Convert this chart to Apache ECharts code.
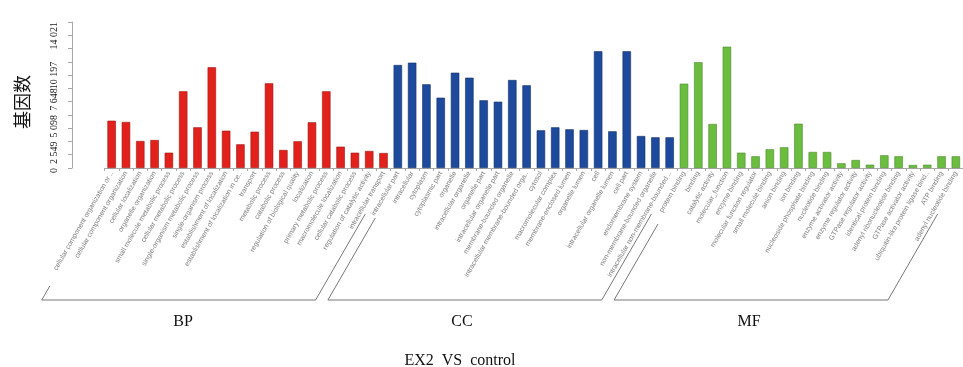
<!DOCTYPE html>
<html>
<head>
<meta charset="utf-8">
<script src="https://cdn.jsdelivr.net/npm/echarts@6/dist/echarts.min.js"></script>
<style>html,body{margin:0;padding:0;background:#fff;}#c{width:963px;height:367px;}</style>
</head>
<body>
<div id="c"></div>
<script>
// ---- data ----
var bpTerms = ["cellular component organization or ..","cellular component organization","cellular localization","organelle organization","small molecule metabolic process","cellular metabolic process","single-organism metabolic process","single-organism process","establishment of localization","establishment of localization in ce..","transport","metabolic process","catabolic process","regulation of biological quality","localization","primary metabolic process","macromolecule localization","cellular catabolic process","regulation of catalytic activity","intracellular transport"];
var bpValues = [4542,4418,2593,2689,1469,7366,3909,9671,3582,2276,3486,8134,1729,2564,4389,7366,2046,1469,1633,1440];
var ccTerms = ["intracellular part","intracellular","cytoplasm","cytoplasmic part","organelle","intracellular organelle","organelle part","intracellular organelle part","membrane-bounded organelle","intracellular membrane-bounded orga..","cytosol","macromolecular complex","membrane-enclosed lumen","organelle lumen","cell","intracellular organelle lumen","cell part","endomembrane system","non-membrane-bounded organelle","intracellular non-membrane-bounded .."];
var ccValues = [9891,10112,8038,6751,9152,8672,6501,6367,8451,7942,3620,3909,3717,3649,11207,3524,11207,3073,2948,2948];
var mfTerms = ["protein binding","binding","catalytic activity","molecular_function","enzyme binding","molecular function regulator","small molecule binding","anion binding","ion binding","nucleoside phosphate binding","nucleotide binding","enzyme activator activity","enzyme regulator activity","GTPase regulator activity","identical protein binding","adenyl ribonucleotide binding","GTPase activator activity","ubiquitin-like protein ligase bind..","ATP binding","adenyl nucleotide binding"];
var mfValues = [8096,10151,4225,11649,1469,1124,1796,1988,4254,1537,1537,451,768,317,1220,1124,288,317,1124,1124];
var groupNames = ["BP","CC","MF"];
var yMax = 14021;
var yTickLabels = ["0","2 549","5 098","7 648","10 197","14 021"];
var yTickSteps = [0,2,4,6,8,11];   // which of the 11 equal steps carry a label
var yAxisTitle = "基因数";
var chartTitle = "EX2  VS  control";

// ---- build ----
var categories = bpTerms.concat(ccTerms, mfTerms);
var nB = bpTerms.length, nC = ccTerms.length, nM = mfTerms.length;
function pad(arr, before, after){
  var out = [];
  for (var i=0;i<before;i++) out.push('-');
  out = out.concat(arr);
  for (var j=0;j<after;j++) out.push('-');
  return out;
}
var interval = yMax / 11;
var colors = ['#E2211C', '#1D4A9C', '#6BBD3F'];
var borders = ['#9a1512', '#123066', '#4a8a2a'];
function mkSeries(name, vals, before, after, k){
  return {
    name: name, type: 'bar', stack: 'all',
    data: pad(vals, before, after),
    barWidth: '59%',
    itemStyle: { color: colors[k], borderColor: borders[k], borderWidth: 0.6 },
    animation: false
  };
}

var chart = echarts.init(document.getElementById('c'), null, {renderer: 'canvas'});
var option = {
  animation: false,
  grid: { left: 104.5, right: -8.5, top: 22, bottom: 199, containLabel: false },
  xAxis: {
    type: 'category', data: categories,
    axisLine: { lineStyle: { color: '#a8a8a8', width: 1 } },
    axisTick: { show: true, length: 3, lineStyle: { color: '#a8a8a8' } },
    axisLabel: { interval: 0, rotate: 60, fontSize: 7, color: '#808080', fontFamily: 'Liberation Sans, Arial, sans-serif', margin: 4 }
  },
  yAxis: {
    type: 'value', min: 0, max: yMax, interval: interval, offset: 32.5,
    axisLine: { show: true, lineStyle: { color: '#a8a8a8' } },
    axisTick: { show: true, length: 4, lineStyle: { color: '#a8a8a8' } },
    splitLine: { show: false },
    axisLabel: {
      rotate: 90, align: 'right', verticalAlign: 'middle', margin: 18,
      fontSize: 10, color: '#222', fontFamily: 'Liberation Serif, serif',
      formatter: function(v){
        var s = Math.round(v / interval);
        var idx = yTickSteps.indexOf(s);
        return idx >= 0 ? yTickLabels[idx] : '';
      }
    }
  },
  series: [
    mkSeries('BP', bpValues, 0, nC + nM, 0),
    mkSeries('CC', ccValues, nB, nM, 1),
    mkSeries('MF', mfValues, nB + nC, 0, 2)
  ]
};
chart.setOption(option);

// ---- decorations: group brackets, labels, titles ----
var k = 1 / Math.tan(60 * Math.PI / 180);
var y0 = chart.convertToPixel({yAxisIndex: 0}, 0) + 4;
var yBottom = 300;
var leftTops = [286, 218, 224];
var rightTop = 214;
var groupRanges = [[0, nB - 1], [nB, nB + nC - 1], [nB + nC, nB + nC + nM - 1]];
var groupLabelX = [183, 462, 749];
var elements = [];
groupRanges.forEach(function(r, g){
  var xa = chart.convertToPixel({xAxisIndex: 0}, r[0]) + 4;
  var xb = chart.convertToPixel({xAxisIndex: 0}, r[1]) + 6;
  var lt = leftTops[g];
  var pts = [
    [xa - (lt - y0) * k, lt],
    [xa - (yBottom - y0) * k, yBottom],
    [xb - (yBottom - y0) * k, yBottom],
    [xb - (rightTop - y0) * k, rightTop]
  ];
  elements.push({ type: 'polyline', shape: { points: pts }, style: { stroke: '#777', lineWidth: 1, fill: null }, silent: true });
  elements.push({ type: 'text', x: groupLabelX[g], y: 322, style: { text: groupNames[g], font: '16px "Liberation Serif", serif', fill: '#111', textAlign: 'center', textVerticalAlign: 'middle' } });
});
elements.push({ type: 'text', x: 460, y: 353, style: { text: chartTitle, font: '16px "Liberation Serif", serif', fill: '#111', textAlign: 'center', textVerticalAlign: 'top' } });
elements.push({ type: 'text', x: 22, y: 102, rotation: Math.PI / 2, style: { text: yAxisTitle, font: '18px "Noto Sans CJK SC", sans-serif', fill: '#111', textAlign: 'center', textVerticalAlign: 'middle' } });
chart.setOption({ graphic: { elements: elements } });
</script>
</body>
</html>
